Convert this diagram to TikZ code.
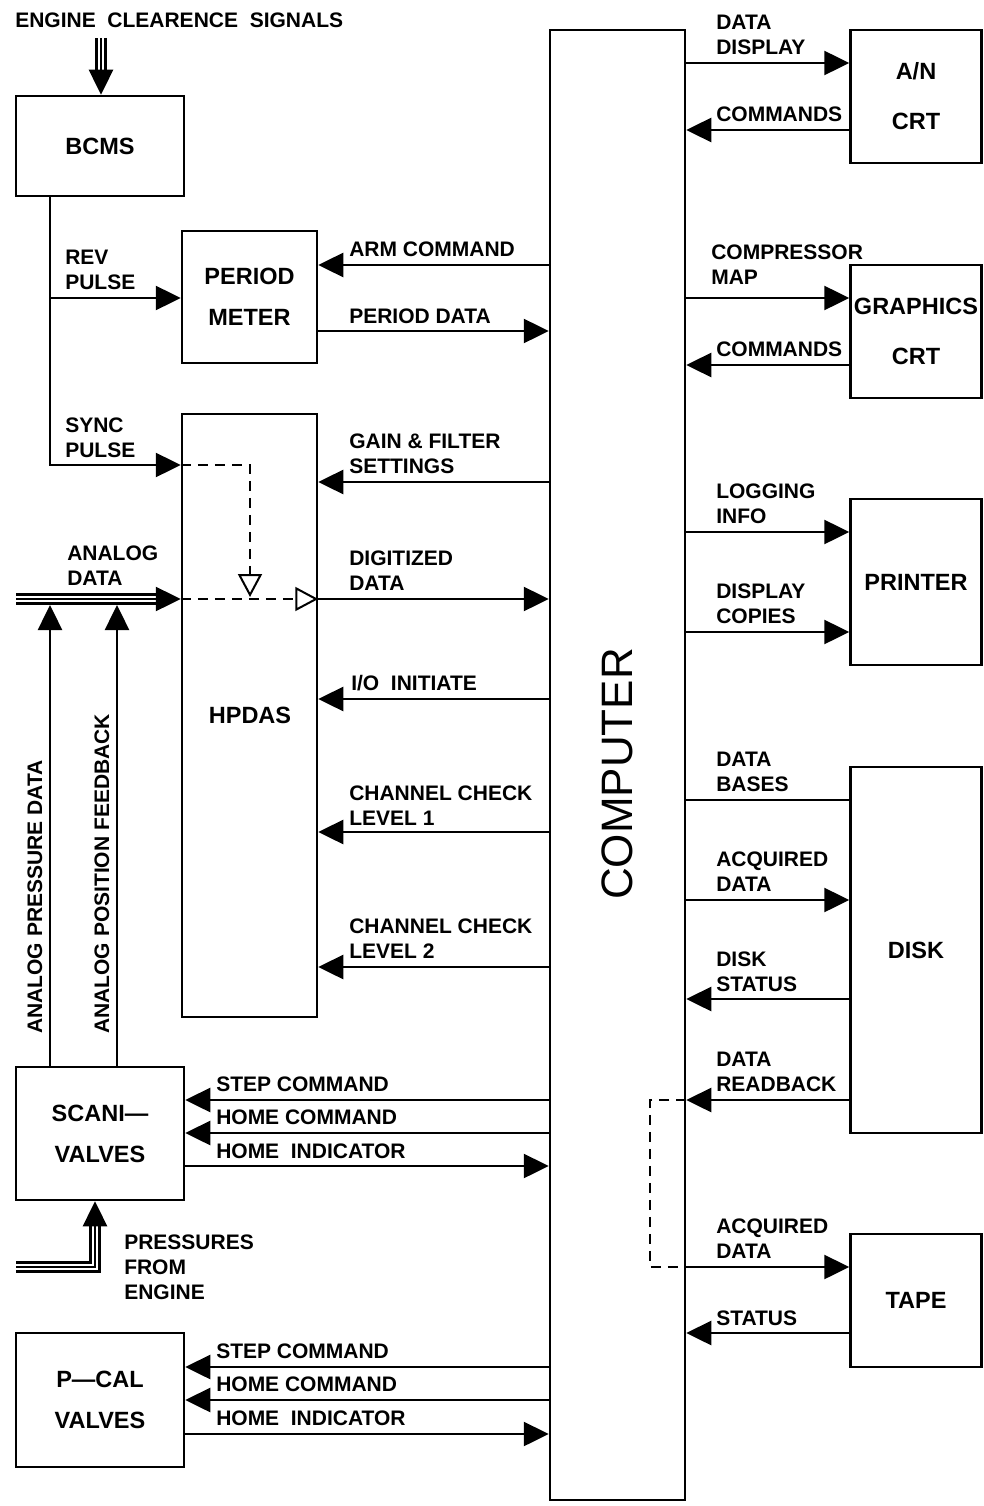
\documentclass[tikz,border=0pt]{standalone}
\usepackage{fontspec}
\setmainfont{Liberation Sans}
\usetikzlibrary{arrows.meta}
\newcommand\lblfont{\bfseries\fontsize{21}{25}\selectfont}
\newcommand\boxfontA{\bfseries\fontsize{23.5}{41}\selectfont}
\newcommand\boxfontB{\bfseries\fontsize{23.5}{50}\selectfont}
\newcommand\tripleln[1]{\draw[line width=12pt] #1; \draw[white,line width=6.5pt] #1; \draw[line width=2.5pt] #1;}
\begin{document}
\begin{tikzpicture}[x=1pt,y=-1pt,line width=2.5pt,
  box/.style={draw,line width=2.5pt,inner sep=0pt,align=center,font=\boxfontA},
  boxb/.style={box,font=\boxfontB},
  lbl/.style={anchor=west,inner sep=0pt,align=left,font=\lblfont},
  arr/.style={-{Triangle[length=25pt,width=24pt]}},
  oarr/.style={-{Triangle[open,length=23pt,width=24pt,fill=white,line width=2pt]}},
  dsh/.style={line width=2pt,dash pattern=on 10pt off 7pt}]
\useasboundingbox (0,0) rectangle (984,1506);

% boxes
\node[box,minimum width=168pt,minimum height=100pt] (bcms) at (100,146) {BCMS};
\node[box,minimum width=135pt,minimum height=132pt] (pm) at (249.5,297) {PERIOD\\METER};
\node[box,minimum width=135pt,minimum height=603pt] (hpdas) at (249.5,715.5) {};
\node[font=\boxfontA,inner sep=0pt] (hpdaslbl) at (250,715) {HPDAS};
\node[box,minimum width=168pt,minimum height=133pt] (scani) at (100,1133.5) {SCANI---\\VALVES};
\node[box,minimum width=168pt,minimum height=134pt] (pcal) at (100,1400) {P---CAL\\VALVES};
\node[box,minimum width=135pt,minimum height=1470pt] (comp) at (617.5,765) {};
\node[rotate=90,inner sep=0pt,font=\fontsize{44}{50}\selectfont] (complbl) at (617,774) {COMPUTER};
\node[boxb,minimum width=131pt,minimum height=133pt] (an) at (916,96.5) {A/N\\CRT};
\node[boxb,minimum width=131pt,minimum height=133pt] (gfx) at (916,331.5) {GRAPHICS\\CRT};
\node[box,minimum width=131pt,minimum height=166pt] (prn) at (916,582) {PRINTER};
\node[box,minimum width=131pt,minimum height=366pt] (disk) at (916,950) {DISK};
\node[box,minimum width=131pt,minimum height=133pt] (tape) at (916,1300.5) {TAPE};

% top input
\node[lbl] (ecs) at (14,20) {ENGINE \ CLEARENCE \ SIGNALS};
\coordinate (ecsin) at (101,38);
\tripleln{(ecsin) -- (101,75)}
\draw[arr] (101,70) -- (bcms.north -| 101,0);

% BCMS outputs
\coordinate (revj) at (50,298);
\draw[arr] (bcms.south -| 50,0) |- (hpdas.west |- 0,465);
\draw[arr] (revj) -- (pm.west |- 0,298);
\node[lbl] (revl) at (64,269.5) {REV\\PULSE};
\node[lbl] (syncl) at (64,437.5) {SYNC\\PULSE};

% period meter
\draw[arr] (comp.west |- 0,265) -- (pm.east |- 0,265);
\draw[arr] (pm.east |- 0,331) -- (comp.west |- 0,331);
\node[lbl] (arml) at (348,249) {ARM COMMAND};
\node[lbl] (pdl) at (348,316) {PERIOD DATA};

% HPDAS
\draw[arr] (comp.west |- 0,482) -- (hpdas.east |- 0,482);
\node[lbl] (gainl) at (348,453.5) {GAIN \& FILTER\\SETTINGS};
\draw[dsh,oarr] (hpdas.west |- 0,465) -| (250,597);
\draw[dsh,oarr] (hpdas.west |- 0,599) -- (hpdas.east |- 0,599);
\draw[arr] (hpdas.east |- 0,599) -- (comp.west |- 0,599);
\node[lbl] (digl) at (348,570.5) {DIGITIZED\\DATA};
\draw[arr] (comp.west |- 0,699) -- (hpdas.east |- 0,699);
\node[lbl] (iol) at (350,683) {I/O \ INITIATE};
\draw[arr] (comp.west |- 0,832) -- (hpdas.east |- 0,832);
\node[lbl] (cc1) at (348,805.5) {CHANNEL CHECK\\LEVEL 1};
\draw[arr] (comp.west |- 0,967) -- (hpdas.east |- 0,967);
\node[lbl] (cc2) at (348,938.5) {CHANNEL CHECK\\LEVEL 2};

% analog data
\coordinate (adin) at (16,599);
\tripleln{(adin) -- (162,599)}
\draw[arr] (156,599) -- (hpdas.west |- 0,599);
\node[lbl] (adl) at (66,565.5) {ANALOG\\DATA};
\coordinate (apd) at (50,605);
\coordinate (apf) at (117,605);
\draw[arr] (scani.north -| apd) -- (apd);
\draw[arr] (scani.north -| apf) -- (apf);
\node[lbl,rotate=90] (apdl) at (35,1035) {ANALOG PRESSURE DATA};
\node[lbl,rotate=90] (apfl) at (102,1035) {ANALOG POSITION FEEDBACK};

% scanivalves
\draw[arr] (comp.west |- 0,1100) -- (scani.east |- 0,1100);
\draw[arr] (comp.west |- 0,1133) -- (scani.east |- 0,1133);
\draw[arr] (scani.east |- 0,1166) -- (comp.west |- 0,1166);
\node[lbl] (s1) at (215,1084) {STEP COMMAND};
\node[lbl] (s2) at (215,1117) {HOME COMMAND};
\node[lbl] (s3) at (215,1151) {HOME \ INDICATOR};
\coordinate (pfe) at (16,1267);
\tripleln{(pfe) -| (95,1222)}
\draw[arr] (95,1228) -- (scani.south -| 95,0);
\node[lbl] (pfel) at (123,1267) {PRESSURES\\FROM\\ENGINE};

% p-cal
\draw[arr] (comp.west |- 0,1367) -- (pcal.east |- 0,1367);
\draw[arr] (comp.west |- 0,1400) -- (pcal.east |- 0,1400);
\draw[arr] (pcal.east |- 0,1434) -- (comp.west |- 0,1434);
\node[lbl] (p1) at (215,1351) {STEP COMMAND};
\node[lbl] (p2) at (215,1384) {HOME COMMAND};
\node[lbl] (p3) at (215,1418) {HOME \ INDICATOR};

% right side
\draw[arr] (comp.east |- 0,63) -- (an.west |- 0,63);
\draw[arr] (an.west |- 0,130) -- (comp.east |- 0,130);
\node[lbl] (r1) at (715,34.5) {DATA\\DISPLAY};
\node[lbl] (r2) at (715,114) {COMMANDS};
\draw[arr] (comp.east |- 0,298) -- (gfx.west |- 0,298);
\draw[arr] (gfx.west |- 0,365) -- (comp.east |- 0,365);
\node[lbl] (r3) at (710,265) {COMPRESSOR\\MAP};
\node[lbl] (r4) at (715,349) {COMMANDS};
\draw[arr] (comp.east |- 0,532) -- (prn.west |- 0,532);
\draw[arr] (comp.east |- 0,632) -- (prn.west |- 0,632);
\node[lbl] (r5) at (715,503.5) {LOGGING\\INFO};
\node[lbl] (r6) at (715,603.5) {DISPLAY\\COPIES};
\draw (comp.east |- 0,800) -- (disk.west |- 0,800);
\draw[arr] (comp.east |- 0,900) -- (disk.west |- 0,900);
\draw[arr] (disk.west |- 0,999) -- (comp.east |- 0,999);
\draw[arr] (disk.west |- 0,1100) -- (comp.east |- 0,1100);
\node[lbl] (r7) at (715,771.5) {DATA\\BASES};
\node[lbl] (r8) at (715,871.5) {ACQUIRED\\DATA};
\node[lbl] (r9) at (715,971.5) {DISK\\STATUS};
\node[lbl] (r10) at (715,1071.5) {DATA\\READBACK};
\draw[dsh] (comp.east |- 0,1100) -| (650,1267) -- (comp.east |- 0,1267);
\draw[arr] (comp.east |- 0,1267) -- (tape.west |- 0,1267);
\draw[arr] (tape.west |- 0,1333) -- (comp.east |- 0,1333);
\node[lbl] (r11) at (715,1238.5) {ACQUIRED\\DATA};
\node[lbl] (r12) at (715,1318) {STATUS};
\end{tikzpicture}
\end{document}
